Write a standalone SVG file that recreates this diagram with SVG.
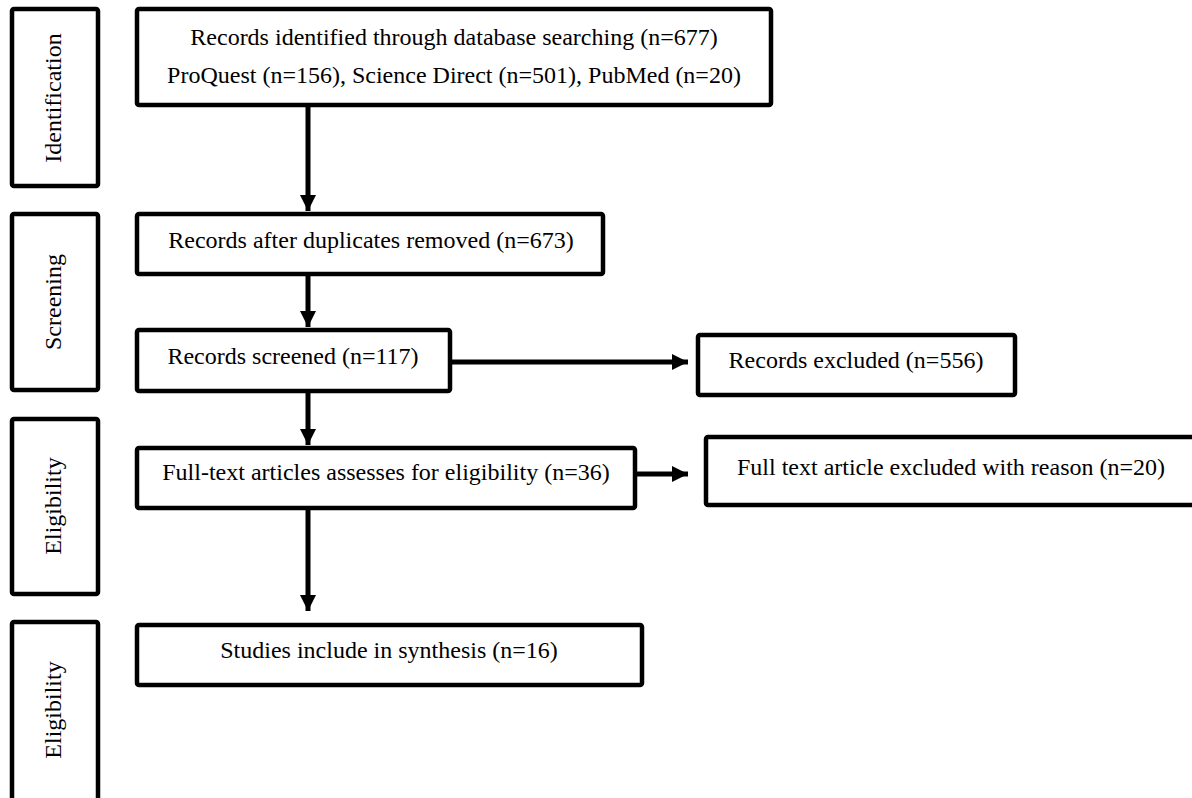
<svg xmlns="http://www.w3.org/2000/svg" width="1192" height="798" viewBox="0 0 1192 798">
<style>
.box{fill:#fff;stroke:#000;stroke-width:4.5}
.t{font-family:"Liberation Serif","Times New Roman",serif;font-size:24px;fill:#000}
.c{text-anchor:middle}
.conn{stroke:#000;stroke-width:5;fill:none}
</style>
<defs>
<marker id="ah" markerUnits="userSpaceOnUse" markerWidth="16" markerHeight="16" refX="16" refY="8" orient="auto">
<path d="M0,0 L16,8 L0,16 z" fill="#000"/>
</marker>
</defs>
<rect width="1192" height="798" fill="#fff"/>
<g id="phase-identification">
<rect class="box" x="12" y="9" width="86" height="177" rx="2"/>
<text class="t c" transform="translate(61,98) rotate(-90)">Identification</text>
</g>
<g id="phase-screening">
<rect class="box" x="12" y="214" width="86" height="176" rx="2"/>
<text class="t c" transform="translate(61,302) rotate(-90)">Screening</text>
</g>
<g id="phase-eligibility-1">
<rect class="box" x="12" y="419" width="86" height="175" rx="2"/>
<text class="t c" transform="translate(61,506) rotate(-90)">Eligibility</text>
</g>
<g id="phase-eligibility-2">
<rect class="box" x="12" y="622" width="86" height="190" rx="2"/>
<text class="t c" transform="translate(61,710) rotate(-90)">Eligibility</text>
</g>
<g id="identified">
<rect class="box" x="137" y="9" width="634" height="96" rx="2"/>
<text class="t c" x="454" y="45">Records identified through database searching (n=677)</text>
<text class="t c" x="454" y="83">ProQuest (n=156), Science Direct (n=501), PubMed (n=20)</text>
</g>
<g id="duplicates-removed">
<rect class="box" x="137" y="214" width="466" height="60" rx="2"/>
<text class="t c" x="371" y="248">Records after duplicates removed (n=673)</text>
</g>
<g id="screened">
<rect class="box" x="137" y="330" width="313" height="61" rx="2"/>
<text class="t c" x="293" y="364">Records screened (n=117)</text>
</g>
<g id="excluded">
<rect class="box" x="698" y="335" width="317" height="60" rx="2"/>
<text class="t c" x="856" y="368">Records excluded (n=556)</text>
</g>
<g id="fulltext-assessed">
<rect class="box" x="137" y="448" width="498" height="60" rx="2"/>
<text class="t c" x="386" y="480">Full-text articles assesses for eligibility (n=36)</text>
</g>
<g id="fulltext-excluded">
<rect class="box" x="706" y="437" width="494" height="68" rx="2"/>
<text class="t c" x="951" y="475">Full text article excluded with reason (n=20)</text>
</g>
<g id="included">
<rect class="box" x="137" y="625" width="505" height="60" rx="2"/>
<text class="t c" x="389" y="658">Studies include in synthesis (n=16)</text>
</g>
<g id="connectors">
<line class="conn" x1="308" y1="107" x2="308" y2="211" marker-end="url(#ah)"/>
<line class="conn" x1="308" y1="276" x2="308" y2="327" marker-end="url(#ah)"/>
<line class="conn" x1="308" y1="393" x2="308" y2="445" marker-end="url(#ah)"/>
<line class="conn" x1="308" y1="510" x2="308" y2="611" marker-end="url(#ah)"/>
<line class="conn" x1="452" y1="362" x2="688" y2="362" marker-end="url(#ah)"/>
<line class="conn" x1="637" y1="474" x2="688" y2="474" marker-end="url(#ah)"/>
</g>
</svg>
